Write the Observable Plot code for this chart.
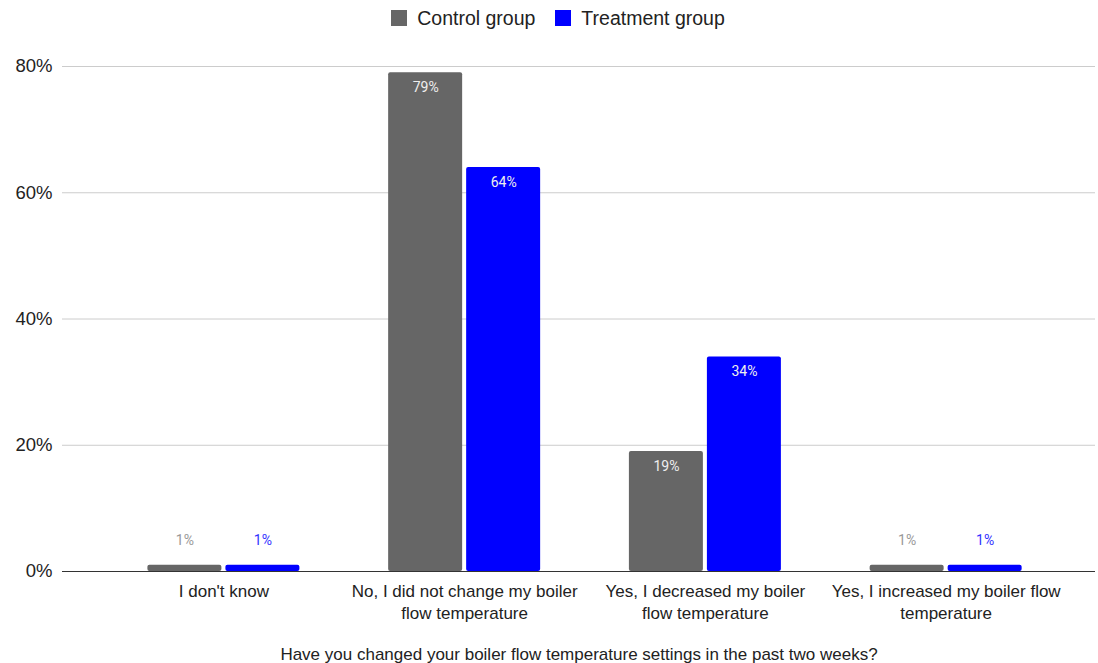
<!DOCTYPE html>
<html>
<head>
<meta charset="utf-8">
<script src="https://cdn.jsdelivr.net/npm/d3@7"></script>
<script src="https://cdn.jsdelivr.net/npm/@observablehq/plot@0.6"></script>
<style>
  html, body { margin: 0; padding: 0; background: #fff; }
  #legend { height: 36px; display: flex; justify-content: center; align-items: center; gap: 20px; padding-left: 18px;
    font-family: "Liberation Sans", Arial, sans-serif; font-size: 19.5px; color: #222; }
  #legend .item { display: flex; align-items: center; gap: 10px; }
  #legend .sw { width: 16px; height: 16px; display: inline-block; }
  #chart svg { display: block; }
</style>
</head>
<body>
<div id="legend"></div>
<div id="chart"></div>
<script>
const categories = [
  "I don't know",
  "No, I did not change my boiler flow temperature",
  "Yes, I decreased my boiler flow temperature",
  "Yes, I increased my boiler flow temperature"
];
const tickLabels = [
  "I don't know",
  "No, I did not change my boiler\nflow temperature",
  "Yes, I decreased my boiler\nflow temperature",
  "Yes, I increased my boiler flow\ntemperature"
];
const seriesNames = ["Control group", "Treatment group"];
const seriesColors = ["#666666", "#0000ff"];
const controlValues = [0.01, 0.79, 0.19, 0.01];
const treatmentValues = [0.01, 0.64, 0.34, 0.01];
const yTicks = [0, 0.2, 0.4, 0.6, 0.8];
const xTitle = "Have you changed your boiler flow temperature settings in the past two weeks?";

const legend = document.getElementById("legend");
seriesNames.forEach((n, i) => {
  const it = document.createElement("div");
  it.className = "item";
  it.innerHTML = `<span class="sw" style="background:${seriesColors[i]}"></span><span>${n}</span>`;
  legend.appendChild(it);
});

const control = categories.map((c, i) => ({cat: c, v: controlValues[i]}));
const treatment = categories.map((c, i) => ({cat: c, v: treatmentValues[i]}));

const W = 1098, H = 627;
const labelFor = Object.fromEntries(categories.map((c, i) => [c, tickLabels[i]]));
const fmt = d3.format(".0%");
const bw = 240.75;
const barW = 74, gap = 4;
const outer = (bw - 2 * barW - gap) / 2;
const cInset = {insetLeft: outer, insetRight: bw - outer - barW};
const tInset = {insetLeft: outer + barW + gap, insetRight: outer};
const off = (barW + gap) / 2;
const big = d => d.v > 0.05;
const small = d => d.v <= 0.05;

const chart = Plot.plot({
  width: W,
  height: H,
  marginTop: 30,
  marginBottom: 92,
  marginLeft: 62,
  marginRight: 3,
  style: {fontFamily: "Liberation Sans, Arial, sans-serif", background: "#fff"},
  x: {domain: categories, paddingInner: 0, paddingOuter: 0.1454, align: 0.586, round: false, label: null},
  y: {domain: [0, 0.8], label: null},
  marks: [
    Plot.gridY(yTicks, {stroke: "#cccccc", strokeOpacity: 1, strokeWidth: 1}),
    Plot.axisY(yTicks, {tickFormat: fmt, tickSize: 0, tickPadding: 10, fontSize: 18.5, fill: "#222",
      fontFamily: "Liberation Sans, Arial, sans-serif", label: null}),
    Plot.barY(control, {x: "cat", y: "v", fill: seriesColors[0], rx: 2, ...cInset}),
    Plot.barY(treatment, {x: "cat", y: "v", fill: seriesColors[1], rx: 2, ...tInset}),
    Plot.ruleY([0], {stroke: "#333", strokeWidth: 1}),
    Plot.text(control, {filter: big, x: "cat", y: "v", text: d => fmt(d.v), dx: -off, dy: 15,
      fill: "#eeeeee", fontSize: 14, fontFamily: "Roboto, sans-serif"}),
    Plot.text(treatment, {filter: big, x: "cat", y: "v", text: d => fmt(d.v), dx: off, dy: 15,
      fill: "#eeeeee", fontSize: 14, fontFamily: "Roboto, sans-serif"}),
    Plot.text(control, {filter: small, x: "cat", y: "v", text: d => fmt(d.v), dx: -off, dy: -25,
      fill: "#999999", fontSize: 14, fontFamily: "Roboto, sans-serif"}),
    Plot.text(treatment, {filter: small, x: "cat", y: "v", text: d => fmt(d.v), dx: off, dy: -25,
      fill: "#3333ff", fontSize: 14, fontFamily: "Roboto, sans-serif"}),
    Plot.axisX({tickFormat: d => labelFor[d], tickSize: 0, tickPadding: 11, fontSize: 17, fill: "#222",
      lineHeight: 1.24, label: xTitle, labelAnchor: "center", labelOffset: 88})
  ]
});
document.getElementById("chart").appendChild(chart);
</script>
</body>
</html>
